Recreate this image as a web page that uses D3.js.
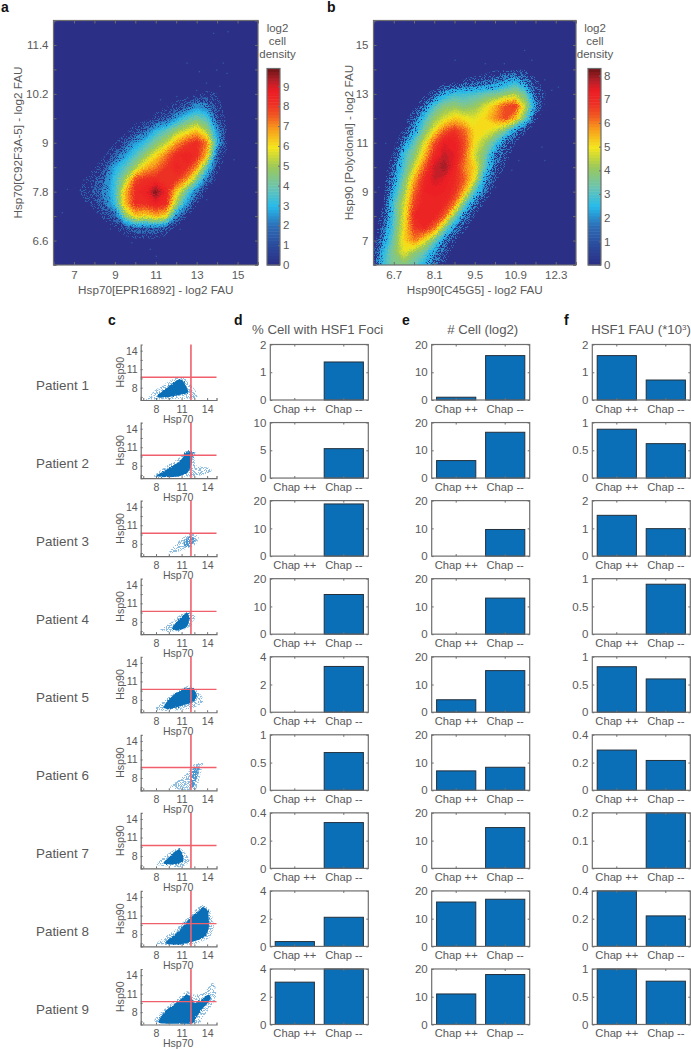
<!DOCTYPE html>
<html>
<head>
<meta charset="utf-8">
<script src="https://cdn.jsdelivr.net/npm/d3@7"></script>
<style>
  body { margin: 0; background: #fff; }
  text { font-family: "Liberation Sans", Arial, sans-serif; fill: #595959; }
  .domain { stroke: none; }
  .tick line { stroke: #6e6e6e; }
  .tick text { fill: #595959; }
  .letter { font-weight: bold; font-size: 14px; fill: #111; }
</style>
</head>
<body>
<script>
// panel a: log2 cell density, rows run top to bottom
let heatAx = [6.5, 7, 7.5, 8, 8.5, 9, 9.5, 10, 10.5, 11, 11.5, 12, 12.5, 13, 13.5, 14, 14.5, 15];
let heatAy = [10.5, 10.2, 9.9, 9.6, 9.3, 9, 8.7, 8.4, 8.1, 7.8, 7.5, 7.2, 6.9, 6.6, 6.3];
let heatA = [
  [0, 0, 0, 0, 0, 0, 0, 0, 0, 0, 0, 0, 0, 0, .2, .3, .2, 0],
  [0, 0, 0, 0, 0, 0, 0, 0, 0, 0, 0, .1, .2, .4, .6, .5, .2, 0],
  [0, 0, 0, 0, 0, 0, 0, 0, .1, .3, .5, .8, 1.3, 2.3, 2, .8, .2, 0],
  [0, 0, 0, 0, 0, 0, .1, .2, .2, .7, 1.2, 2.5, 3.6, 4.2, 3.6, 1.2, .3, 0],
  [0, 0, 0, 0, 0, .1, .3, .9, 1.6, 3, 3.8, 4.8, 5.6, 6.4, 5, 2.4, .4, 0],
  [0, 0, 0, 0, .2, .5, 1.1, 2.5, 3.3, 4.4, 5.3, 6.8, 7.8, 8.3, 7.2, 3, .5, 0],
  [0, 0, 0, .2, .5, 1.2, 2.5, 3.6, 4.8, 6, 7.2, 8.3, 8.6, 8.3, 6.5, 1.5, .2, 0],
  [0, 0, .2, .5, 1, 2.8, 3.7, 5, 6.5, 7.2, 8, 8.5, 8.3, 7, 3.8, .8, .1, 0],
  [0, .1, .5, .9, 1.7, 3.3, 5, 7.8, 8.2, 8.3, 8, 8.1, 7, 4.5, 1.8, .3, 0, 0],
  [0, .3, .7, 1.1, 2, 3.4, 6.5, 8.3, 8.6, 9.8, 8.6, 6.3, 4, 2, .4, 0, 0, 0],
  [0, .1, .4, .8, 1.7, 3.2, 6.5, 8.2, 8.2, 8.7, 8.3, 5, 2.5, .6, .1, 0, 0, 0],
  [0, 0, .1, .2, .7, 1.4, 4.5, 6.3, 6, 6.6, 6, 2.2, .6, .1, 0, 0, 0, 0],
  [0, 0, 0, 0, .2, .5, 1, 1.5, 1.5, 1.6, 1.2, .3, 0, 0, 0, 0, 0, 0],
  [0, 0, 0, 0, 0, .1, .2, .3, .3, .3, .1, 0, 0, 0, 0, 0, 0, 0],
  [0, 0, 0, 0, 0, 0, 0, 0, 0, 0, 0, 0, 0, 0, 0, 0, 0, 0]
];
let strayA = [[14.5, 11.74], [13.8, 11.7], [14.27, 10.97], [13.95, 10.8], [14.45, 10.72], [13.1, 10.76],
  [13.45, 10.48], [14.1, 10.4], [13.8, 10.07], [12.97, 10.3], [12, 10.15], [11.2, 10.07], [12.5, 10.97],
  [7.45, 8.1], [6.65, 7.87], [6.4, 7.3], [8.1, 7.3], [8.75, 6.9], [10.7, 6.4], [11, 6.23], [9.8, 6.56],
  [12.16, 6.89], [13.46, 7.62], [14.43, 8.85], [14.8, 8.6]];

// panel b
let heatBx = [6, 6.35, 6.7, 7.05, 7.4, 7.75, 8.1, 8.45, 8.8, 9.15, 9.5, 9.85, 10.2, 10.55, 10.9, 11.25, 11.6, 11.95, 12.3];
let heatBy = [14.5, 14, 13.5, 13, 12.5, 12, 11.5, 11, 10.5, 10, 9.5, 9, 8.5, 8, 7.5, 7, 6.5, 6];
let heatB = [
  [0, 0, 0, 0, 0, 0, 0, 0, 0, 0, 0, .1, .1, .1, .1, .1, 0, 0, 0],
  [0, 0, 0, 0, 0, 0, 0, 0, 0, 0, .1, .2, .4, .4, .4, .5, .3, 0, 0],
  [0, 0, 0, 0, 0, 0, 0, .2, .3, .7, .8, 1.1, 1.3, 1.9, 2.6, 1.6, .6, .3, 0],
  [0, 0, 0, 0, 0, .3, .9, 2.2, 2.8, 2.8, 3, 3.3, 3.5, 3.9, 4.2, 3.4, 1, .5, .3],
  [0, 0, 0, 0, .4, 1.3, 3, 3.8, 4, 3.7, 4, 4.7, 5.5, 6.5, 6.8, 4.5, 1.8, .3, 0],
  [0, 0, 0, .2, 1, 2.8, 4, 4.7, 5.3, 5, 4.8, 5.2, 5.9, 6.5, 5.5, 3.4, .7, .1, 0],
  [0, 0, 0, .6, 2, 3.6, 5, 6.3, 6.8, 6.2, 5.1, 5, 4.6, 3.6, 1.8, .6, .1, 0, 0],
  [0, 0, .3, 1.5, 3.2, 4.7, 6.4, 7.4, 7.3, 6.5, 5, 4.2, 3, 1.3, .5, .2, 0, 0, 0],
  [0, .1, .6, 2.8, 3.8, 5.4, 7, 7.7, 7.4, 6.3, 4.6, 3.6, 1.6, .7, .3, 0, 0, 0, 0],
  [0, .1, 1.2, 3, 4.6, 6.3, 7.6, 8, 7.2, 6, 5.2, 3.2, 1.2, .5, .2, 0, 0, 0, 0],
  [0, .2, 1.8, 3.6, 5.6, 7, 7.6, 7.4, 7, 6.3, 4.8, 2, .6, .2, 0, 0, 0, 0, 0],
  [0, .3, 2.4, 4, 6.2, 7.2, 7.3, 7.2, 6.9, 5.5, 3, 1.2, .3, 0, 0, 0, 0, 0, 0],
  [0, .5, 3, 4.6, 6.6, 7.2, 7.1, 7, 6.1, 3.4, 1.3, .4, 0, 0, 0, 0, 0, 0, 0],
  [.1, .8, 3, 4.8, 7, 7.2, 7.2, 6.3, 3.8, 1.6, .5, .1, 0, 0, 0, 0, 0, 0, 0],
  [.1, 1.2, 3.2, 5, 6.7, 7, 6.1, 3.8, 1.7, .6, .2, 0, 0, 0, 0, 0, 0, 0, 0],
  [.2, 1.8, 3.5, 5.2, 6, 5, 3.6, 1.6, .6, .2, 0, 0, 0, 0, 0, 0, 0, 0, 0],
  [.4, 2.6, 3.8, 4.8, 4, 3.3, 1.8, .8, .3, 0, 0, 0, 0, 0, 0, 0, 0, 0, 0],
  [.5, 2.8, 3.7, 3.8, 3.2, 2.4, 1.2, .5, .2, 0, 0, 0, 0, 0, 0, 0, 0, 0, 0]
];
let strayB = [[12.14, 13.17], [12.37, 13.3], [11.9, 13.6], [11.45, 14.4], [11.2, 14.8], [10.5, 14.26],
  [9.84, 14.26], [11.8, 10.85], [11.9, 10.3], [11, 10.3], [10.2, 9.2], [10.76, 9.9], [9.84, 8.68],
  [9.38, 8], [7.88, 13], [6.4, 11], [6.16, 9.2], [8.8, 14.4], [11.45, 11.67]];

// colour bar stops, as a fraction of each panel's maximum density
let jetStops = [0, .1, .2, .3, .4, .5, .6, .7, .76, .82, .89, .94, 1];
let jetColors = ["#2b2f85", "#2b4a9c", "#2c6db6", "#27bbec", "#6cc4ae", "#9cc95a", "#f4e61a",
  "#f8971d", "#f15a22", "#ed2f24", "#ec1c24", "#b5202a", "#6e1416"];

// panel c outlines, one per patient
let patients = ["Patient  1", "Patient 2", "Patient 3", "Patient 4", "Patient 5", "Patient 6", "Patient 7", "Patient 8", "Patient 9"];
let scatterCore = [
  [[8.3, 6.9], [10.65, 9.35], [11.2, 9], [11.75, 7.6], [11.6, 7.1], [9.5, 6.5], [8.3, 6.4]],
  [[8, 6.3], [9.5, 7.6], [10.85, 8.8], [11.65, 10.3], [12.3, 10.1], [12.15, 8.1], [11.65, 6.8], [10.25, 6.2]],
  [[11.25, 8.4], [12, 9.3], [12.6, 8.65], [12, 7.55], [11.35, 7.55]],
  [[9.85, 7], [10.85, 8.6], [11.65, 9.5], [11.9, 8.6], [11.65, 7.25], [10.65, 6.6]],
  [[8.85, 6.9], [10.05, 8.8], [11.25, 9.75], [12.3, 9.9], [12.8, 8.8], [12.4, 7.7], [10.65, 6.9], [9.5, 6.5]],
  [[12, 6.65], [12.35, 9.6], [12.8, 9.9], [13.1, 9.35], [12.6, 7.2], [12.3, 6.2]],
  [[8.87, 6.86], [10.25, 8.75], [10.77, 9.1], [11.15, 8.2], [11.15, 7.15], [10.05, 6.6]],
  [[9.05, 6.55], [10.65, 8.45], [12, 10.6], [13, 11.7], [13.5, 12.4], [14.1, 11.7], [14.2, 9.25], [13.8, 7.6], [12.4, 6.8], [10.65, 6.3]],
  [[8.3, 6.55], [9.05, 8.15], [10.65, 9.8], [11.6, 10.9], [12.15, 10.3], [12.6, 9.5], [13.6, 10.3], [14.2, 10.85], [14.4, 10.05], [13.2, 8.15], [12.6, 6.8], [12.2, 6.15], [8.7, 6.15]]
];
let scatterHalo = [
  [[7.1, 6.4], [7.9, 7.6], [10.4, 9.7], [11.4, 9.5], [12.6, 7.6], [12.6, 6.3], [7.1, 6.1]],
  [[7.8, 6.2], [9.07, 7.8], [10.65, 9.2], [11.5, 10.4], [12.6, 10.3], [12.6, 8.1], [14.4, 7.6], [14.4, 7], [12.6, 6.3]],
  [[9.45, 6.5], [10.85, 8.65], [12, 9.7], [13, 9.2], [12.6, 7.85], [10.65, 6.75]],
  [[8.5, 6.7], [9.65, 7.8], [10.85, 9.15], [11.75, 9.7], [12.6, 8.85], [12, 7.25], [9.85, 6.3]],
  [[7.8, 6.4], [9.05, 8], [10.85, 9.75], [12, 10.3], [13.1, 9.1], [13.6, 7.7], [12.2, 6.65], [9.5, 6.2]],
  [[9.65, 6.4], [11.45, 8.55], [12.4, 10.15], [13.5, 10.4], [13.2, 8.55], [12.6, 6.1]],
  [[8.1, 6.6], [9.25, 8.2], [10.65, 9.3], [11.45, 8.5], [11.95, 7.15], [10.85, 6.2]],
  [[8.1, 6.4], [10.25, 8.7], [12, 11.1], [13.4, 12.75], [14.4, 11.7], [14.8, 9.25], [14.2, 7.35], [12.2, 6.3]],
  [[7.9, 6.4], [8.7, 8.15], [10.45, 10.15], [11.65, 11.4], [12.4, 10.85], [13.6, 11.1], [14.6, 12.75], [15, 11.95], [15, 10.05], [13.6, 7.35], [12.8, 6.1]]
];
let sparseCore = [false, false, true, false, false, true, false, false, false];
let gateX = 12.1, gateY = 9.7;

// bar panels
let groups = ["Chap ++", "Chap --"];
let fociPlus = [0, 0, 0, 0, 0, 0, 0, .35, 3.05];
let fociMinus = [1.37, 5.3, 18.8, 14.3, 3.3, .68, .33, 2.1, 4];
let fociMax = [2, 10, 20, 20, 4, 1, .4, 4, 4];
let cellPlus = [1, 6.3, 0, 0, 4.5, 7, 0, 16, 11];
let cellMinus = [16, 16.5, 9.6, 13, 15, 8.3, 14.7, 17, 18];
let cellMax = [20, 20, 20, 20, 20, 20, 20, 20, 20];
let fauPlus = [1.6, .88, 1.47, 0, .82, .29, 0, .4, 1];
let fauMinus = [.72, .62, .99, .9, .6, .215, .2, .22, .78];
let fauMax = [2, 1, 2, 1, 1, .4, .2, .4, 1];

let svg = d3.select("body").append("svg")
    .attr("width", 691)
    .attr("height", 1050);

let defs = svg.append("defs");

function addFilter(id) {
  return defs.append("filter").attr("id", id)
      .attr("x", "-5%").attr("y", "-5%").attr("width", "110%").attr("height", "110%")
      .attr("color-interpolation-filters", "sRGB");
}
// rough edge, for the solid part of the density
function addRough(id, scale) {
  let f = addFilter(id);
  f.append("feTurbulence")
      .attr("type", "fractalNoise").attr("baseFrequency", 0.8).attr("numOctaves", 1).attr("seed", 4)
      .attr("result", "n");
  f.append("feDisplacementMap")
      .attr("in", "SourceGraphic").attr("in2", "n").attr("scale", scale)
      .attr("xChannelSelector", "R").attr("yChannelSelector", "G");
}
// dotted fill, for where cells are too sparse to cover the plot
function addSpeckle(id, threshold, seed) {
  let f = addFilter(id);
  f.append("feTurbulence")
      .attr("type", "fractalNoise").attr("baseFrequency", 0.9).attr("numOctaves", 2).attr("seed", seed)
      .attr("result", "n");
  f.append("feColorMatrix").attr("in", "n").attr("type", "matrix")
      .attr("values", "0 0 0 0 0  0 0 0 0 0  0 0 0 0 0  1 0 0 0 0")
      .attr("result", "a");
  f.append("feComponentTransfer").attr("in", "a").attr("result", "m")
      .append("feFuncA").attr("type", "linear").attr("slope", 30).attr("intercept", -30 * threshold);
  f.append("feComposite").attr("in", "SourceGraphic").attr("in2", "m").attr("operator", "in");
}
addRough("rough", 9);
addRough("roughSmall", 3);
addSpeckle("sparse", 0.57, 2);
addSpeckle("medium", 0.5, 7);
addSpeckle("dense", 0.43, 11);

function frameAxes(g, x, y, xTicks, yTicks, xLabels, yLabels, fontSize) {
  let w = x.range()[1], h = y.range()[0];
  let fmtX = d => xLabels.includes(d) ? d : "";
  let fmtY = d => yLabels.includes(d) ? d : "";
  let bottom = g.append("g").attr("transform", `translate(0,${h})`)
      .call(d3.axisBottom(x).tickValues(xTicks).tickSize(-3).tickPadding(6).tickFormat(fmtX));
  let left = g.append("g")
      .call(d3.axisLeft(y).tickValues(yTicks).tickSize(-3).tickPadding(5).tickFormat(fmtY));
  let top = g.append("g")
      .call(d3.axisTop(x).tickValues(xTicks).tickSize(-3).tickFormat(""));
  let right = g.append("g").attr("transform", `translate(${w},0)`)
      .call(d3.axisRight(y).tickValues(yTicks).tickSize(-3).tickFormat(""));
  [bottom, left].forEach(a => a.selectAll("text").style("font-size", fontSize + "px"));
  g.append("rect")
      .attr("width", w).attr("height", h)
      .attr("fill", "none").attr("stroke", "#6e6e6e").attr("stroke-width", 1.2);
}

function drawHeat(o) {
  let g = svg.append("g").attr("transform", `translate(${o.left},${o.top})`);
  let x = d3.scaleLinear().domain(o.xDomain).range([0, o.width]);
  let y = d3.scaleLinear().domain(o.yDomain).range([o.height, 0]);
  let color = d3.scaleLinear().domain(jetStops.map(t => t * o.max)).range(jetColors).clamp(true);

  g.append("rect").attr("width", o.width).attr("height", o.height).attr("fill", color(0));
  defs.append("clipPath").attr("id", o.id).append("rect").attr("width", o.width).attr("height", o.height);

  let nx = o.xs.length, ny = o.ys.length;
  let dx = o.xs[1] - o.xs[0], dy = o.ys[0] - o.ys[1];
  let values = o.grid.flat();
  let solid = d3.range(2.4, o.max, 0.2);
  let contours = d3.contours().size([nx, ny]).smooth(true);
  let project = d3.geoTransform({
    point: function(gx, gy) {
      this.stream.point(x(o.xs[0] + (gx - 0.5) * dx), y(o.ys[0] - (gy - 0.5) * dy));
    }
  });
  let path = d3.geoPath(project);
  let clip = g.append("g").attr("clip-path", `url(#${o.id})`);

  // the thin outer levels are dotted, the rest solid
  [[0.5, "sparse"], [1, "medium"], [1.7, "dense"]].forEach(([level, filter]) => {
    clip.append("path")
        .attr("filter", `url(#${filter})`)
        .attr("d", path(contours.contour(values, level)))
        .attr("fill", color(level * 0.6 + 1.4));
  });
  clip.append("g").attr("filter", "url(#rough)")
    .selectAll("path")
      .data(contours.thresholds(solid)(values))
      .join("path")
      .attr("d", path)
      .attr("fill", d => color(d.value + 0.1));
  clip.selectAll(".stray")
      .data(o.stray)
      .join("rect")
      .attr("class", "stray")
      .attr("x", d => x(d[0]))
      .attr("y", d => y(d[1]))
      .attr("width", 1.3).attr("height", 1.3)
      .attr("fill", color(o.max * 0.15));

  frameAxes(g, x, y, o.xTicks, o.yTicks, o.xLabels, o.yLabels, 11.5);

  g.append("text").attr("x", o.width / 2).attr("y", o.height + 28.5)
      .attr("text-anchor", "middle").style("font-size", "11.7px").text(o.xTitle);
  g.append("text").attr("transform", `translate(${o.yTitleX},${o.yTitleY}) rotate(-90)`)
      .attr("text-anchor", "middle").style("font-size", "11.7px").text(o.yTitle);

  // colour bar
  let barTop = 48, barLeft = o.width + o.barGap, barWidth = 13;
  let c = d3.scaleLinear().domain([0, o.max]).range([o.height, barTop]);
  let bar = g.append("g");
  bar.selectAll("rect")
      .data(d3.range(0, 64))
      .join("rect")
      .attr("x", barLeft)
      .attr("width", barWidth)
      .attr("y", i => c((i + 1) / 64 * o.max))
      .attr("height", i => c(i / 64 * o.max) - c((i + 1) / 64 * o.max) + 0.5)
      .attr("fill", i => color((i + 0.5) / 64 * o.max));
  bar.append("rect").attr("x", barLeft).attr("y", barTop)
      .attr("width", barWidth).attr("height", o.height - barTop)
      .attr("fill", "none").attr("stroke", "#6e6e6e").attr("stroke-width", 1.2);
  let cAxis = g.append("g").attr("transform", `translate(${barLeft + barWidth},0)`)
      .call(d3.axisRight(c).tickValues(d3.range(0, Math.floor(o.max) + 1)).tickSize(-2).tickPadding(3));
  cAxis.selectAll("text").style("font-size", "11.5px");

  ["log2", "cell", "density"].forEach((t, i) => {
    g.append("text").attr("x", barLeft + barWidth / 2 + o.titleShift).attr("y", 11.5 + i * 13)
        .attr("text-anchor", "middle").style("font-size", "11.5px").text(t);
  });
}

drawHeat({
  id: "clipA", left: 53.5, top: 20.5, width: 204.5, height: 244.5,
  xDomain: [6, 16], yDomain: [6, 12], xs: heatAx, ys: heatAy, grid: heatA, stray: strayA, max: 9.9,
  xTicks: d3.range(6, 17), yTicks: d3.range(6, 12.01, 0.6).map(v => +v.toFixed(1)),
  xLabels: [7, 9, 11, 13, 15], yLabels: [6.6, 7.8, 9, 10.2, 11.4],
  xTitle: "Hsp70[EPR16892] - log2 FAU", yTitle: "Hsp70[C92F3A-5] - log2 FAU",
  yTitleX: -32, yTitleY: 122, barGap: 9, titleShift: 4
});
drawHeat({
  id: "clipB", left: 373.5, top: 20.5, width: 202.5, height: 244.5,
  xDomain: [6, 13], yDomain: [6, 16], xs: heatBx, ys: heatBy, grid: heatB, stray: strayB, max: 8.3,
  xTicks: d3.range(6, 13.01, 0.7).map(v => +v.toFixed(1)), yTicks: d3.range(6, 17),
  xLabels: [6.7, 8.1, 9.5, 10.9, 12.3], yLabels: [7, 9, 11, 13, 15],
  xTitle: "Hsp90[C45G5] - log2 FAU", yTitle: "Hsp90 [Polyclonal] - log2 FAU",
  yTitleX: -20.5, yTitleY: 122, barGap: 12, titleShift: 0.5
});

// panel c
let rowTop = 344.5, rowStep = 78.06, rowHeight = 55.5;
let scatX = d3.scaleLinear().domain([6.2, 15.1]).range([0, 75.8]);
let scatY = d3.scaleLinear().domain([6, 15]).range([rowHeight, 0]);
let outline = d3.line().x(d => scatX(d[0])).y(d => scatY(d[1])).curve(d3.curveCardinalClosed.tension(0.4));

patients.forEach((name, i) => {
  let g = svg.append("g").attr("transform", `translate(140.7,${rowTop + i * rowStep})`);
  svg.append("text").attr("x", 36).attr("y", rowTop + i * rowStep + 45)
      .style("font-size", "13.4px").text(name);
  g.append("path").attr("d", outline(scatterHalo[i]))
      .attr("fill", "#8fbde0").attr("filter", "url(#medium)");
  g.append("path").attr("d", outline(scatterCore[i]))
      .attr("fill", sparseCore[i] ? "#4a97d0" : "#0b6fb7")
      .attr("filter", sparseCore[i] ? "url(#dense)" : "url(#roughSmall)");
  g.append("line").attr("x1", scatX(gateX)).attr("x2", scatX(gateX)).attr("y1", 0).attr("y2", rowHeight)
      .attr("stroke", "#f0606c").attr("stroke-width", 1.6);
  g.append("line").attr("x1", 0).attr("x2", 75.8).attr("y1", scatY(gateY)).attr("y2", scatY(gateY))
      .attr("stroke", "#f0606c").attr("stroke-width", 1.4);

  let ax = g.append("g").attr("transform", `translate(0,${rowHeight})`)
      .call(d3.axisBottom(scatX).tickValues([6.5, 8, 9.5, 11, 12.5, 14]).tickSize(-2).tickPadding(5)
        .tickFormat(d => [8, 11, 14].includes(d) ? d : ""));
  let ay = g.append("g")
      .call(d3.axisLeft(scatY).tickValues([6.5, 8, 9.5, 11, 12.5, 14]).tickSize(-2).tickPadding(3)
        .tickFormat(d => [8, 11, 14].includes(d) ? d : ""));
  [ax, ay].forEach(a => {
    a.selectAll("text").style("font-size", "10.6px");
    a.select(".domain").style("stroke", "#6e6e6e").style("stroke-width", 1.2);
  });
  g.append("text").attr("x", 37.5).attr("y", rowHeight + 22.5)
      .attr("text-anchor", "middle").style("font-size", "10.6px").text("Hsp70");
  g.append("text").attr("transform", `translate(-17,${rowHeight / 2}) rotate(-90)`)
      .attr("text-anchor", "middle").style("font-size", "10.6px").text("Hsp90");
});

// panels d, e, f
function drawBars(left, plus, minus, maxes) {
  let width = 98;
  let x = d3.scaleBand().domain(groups).range([0, width]).paddingInner(0.2).paddingOuter(0.1);
  maxes.forEach((m, i) => {
    let g = svg.append("g").attr("transform", `translate(${left},${rowTop + i * rowStep})`);
    let y = d3.scaleLinear().domain([0, m]).range([rowHeight, 0]);
    let vals = [plus[i], minus[i]];
    let yTicks = [0, m / 2, m];
    g.selectAll("rect")
        .data(vals.map((v, j) => ({v, key: groups[j]})).filter(d => d.v > 0))
        .join("rect")
        .attr("x", d => x(d.key))
        .attr("y", d => y(d.v))
        .attr("width", x.bandwidth())
        .attr("height", d => rowHeight - y(d.v))
        .attr("fill", "#0b6fb7")
        .attr("stroke", "#23303c")
        .attr("stroke-width", 1);
    let ax = g.append("g").attr("transform", `translate(0,${rowHeight})`)
        .call(d3.axisBottom(x).tickSize(-2).tickPadding(5));
    let ay = g.append("g")
        .call(d3.axisLeft(y).tickValues(yTicks).tickSize(-2).tickPadding(4).tickFormat(d => d));
    g.append("g").call(d3.axisTop(x).tickSize(-2).tickFormat(""));
    g.append("g").attr("transform", `translate(${width},0)`)
        .call(d3.axisRight(y).tickValues(yTicks).tickSize(-2).tickFormat(""));
    ax.selectAll("text").style("font-size", "11.2px");
    ay.selectAll("text").style("font-size", "11.5px");
    g.append("rect").attr("width", width).attr("height", rowHeight)
        .attr("fill", "none").attr("stroke", "#6e6e6e").attr("stroke-width", 1.2);
  });
}
drawBars(270.3, fociPlus, fociMinus, fociMax);
drawBars(431.7, cellPlus, cellMinus, cellMax);
drawBars(592.3, fauPlus, fauMinus, fauMax);

let titleY = 333.5;
svg.append("text").attr("x", 317.7).attr("y", titleY).attr("text-anchor", "middle")
    .style("font-size", "13.2px").text("% Cell with HSF1 Foci");
svg.append("text").attr("x", 482.7).attr("y", titleY).attr("text-anchor", "middle")
    .style("font-size", "13.2px").text("# Cell (log2)");
let fauTitle = svg.append("text").attr("x", 641).attr("y", titleY).attr("text-anchor", "middle")
    .style("font-size", "13.2px");
fauTitle.append("tspan").text("HSF1 FAU (*10");
fauTitle.append("tspan").attr("dy", -4).style("font-size", "8px").text("3");
fauTitle.append("tspan").attr("dy", 4).text(")");

let letters = [["a", 1, 12], ["b", 327, 12], ["c", 108, 325], ["d", 234, 325], ["e", 402, 325], ["f", 564, 325]];
svg.selectAll(".letter")
    .data(letters)
    .join("text")
    .attr("class", "letter")
    .attr("x", d => d[1])
    .attr("y", d => d[2])
    .text(d => d[0]);
</script>
</body>
</html>
